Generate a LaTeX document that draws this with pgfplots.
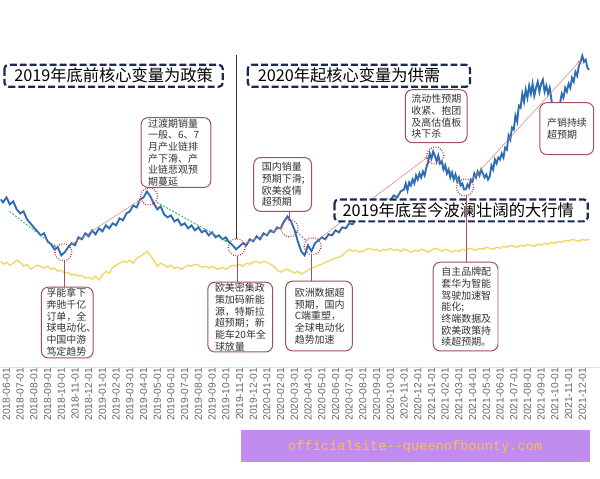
\documentclass[border=0pt]{standalone}
\usepackage{pgfplots}
\pgfplotsset{compat=1.18}
\usetikzlibrary{arrows.meta}
\usepackage{fontspec}
\setmainfont{Liberation Sans}
\newfontfamily\cjk{Noto Sans CJK SC}
\newfontfamily\mono{Liberation Mono}
\definecolor{blueL}{HTML}{2E6DB4}
\definecolor{yellowL}{HTML}{F2D45E}
\definecolor{navyB}{HTML}{1B2A55}
\definecolor{boxc}{HTML}{A0505E}
\definecolor{txt}{HTML}{333333}
\definecolor{circ}{HTML}{C0283C}
\definecolor{greenA}{HTML}{3DAA86}
\definecolor{redA}{HTML}{DE7F77}
\definecolor{wmbg}{HTML}{C08CF0}
\definecolor{wmtx}{HTML}{F4C542}
\begin{document}
\begin{tikzpicture}
\begin{scope}[yshift=368pt,x=1pt,y=-1pt]
\path[use as bounding box] (0,0) rectangle (600,480);
\end{scope}
\begin{axis}[
  at={(0,0)}, anchor=south west,
  scale only axis, width=600pt, height=368pt,
  xmin=-0.364, xmax=43.27, ymin=112, ymax=480,
  axis x line*=bottom, axis y line=none,
  x axis line style={draw=black!12, line width=0.6pt, -},
  xtick={0,...,42},
  xticklabels={2018-06-01,2018-07-01,2018-08-01,2018-09-01,2018-10-01,2018-11-01,2018-12-01,2019-01-01,2019-02-01,2019-03-01,2019-04-01,2019-05-01,2019-06-01,2019-07-01,2019-08-01,2019-09-01,2019-10-01,2019-11-01,2019-12-01,2020-01-01,2020-02-01,2020-03-01,2020-04-01,2020-05-01,2020-06-01,2020-07-01,2020-08-01,2020-09-01,2020-10-01,2020-11-01,2020-12-01,2021-01-01,2021-02-01,2021-03-01,2021-04-01,2021-05-01,2021-06-01,2021-07-01,2021-08-01,2021-09-01,2021-10-01,2021-11-01,2021-12-01},
  xticklabel style={rotate=90, anchor=east, font=\fontsize{10.3}{11}\selectfont, text=black!60, inner sep=1pt},
  xtick style={draw=none},
  clip=false,
]
\addplot[yellowL, line width=1.3pt, no markers] coordinates {(-0.4,218) (-0.2,215) (0,217) (0.25,214) (0.5,216) (0.75,219) (1,217) (1.25,213) (1.5,215) (1.75,210) (2,212) (2.25,214) (2.5,213) (2.75,211) (3,213) (3.25,210) (3.5,211) (3.75,208) (4,209) (4.25,206) (4.5,207) (4.75,204) (5,205) (5.25,203) (5.5,204) (5.75,201) (6,202) (6.25,200) (6.5,203) (6.75,199) (7,204) (7.25,208) (7.5,206) (7.75,212) (8,214) (8.25,216) (8.5,218) (8.75,217) (9,219) (9.25,216) (9.5,221) (9.75,223) (10,225) (10.25,228) (10.5,224) (10.75,219) (11,213) (11.25,216) (11.5,214) (11.75,212) (12,214) (12.25,211) (12.5,212) (12.75,210) (13,212) (13.25,214) (13.5,213) (13.75,215) (14,214) (14.25,212) (14.5,213) (14.75,211) (15,213) (15.25,211) (15.5,210) (15.75,212) (16,210) (16.25,212) (16.5,214) (16.75,213) (17,215) (17.25,213) (17.5,216) (17.75,215) (18,217) (18.25,218) (18.5,216) (18.75,218) (19,217) (19.25,215) (19.5,213) (19.75,209) (20,207) (20.25,209) (20.5,210) (20.75,208) (21,206) (21.25,208) (21.5,205) (21.75,207) (22,209) (22.25,211) (22.5,212) (22.75,214) (23,215) (23.25,217) (23.5,218) (23.75,220) (24,221) (24.25,222) (24.5,224) (24.75,227) (25,230) (25.25,228) (25.5,229) (25.75,227) (26,228) (26.25,230) (26.5,231) (26.75,229) (27,230) (27.25,228) (27.5,230) (27.75,229) (28,231) (28.25,229) (28.5,230) (28.75,228) (29,230) (29.25,229) (29.5,227) (29.75,229) (30,228) (30.25,230) (30.5,229) (30.75,227) (31,229) (31.25,231) (31.5,230) (31.75,228) (32,230) (32.25,229) (32.5,227) (32.75,229) (33,228) (33.25,230) (33.5,229) (33.75,231) (34,230) (34.25,229) (34.5,231) (34.75,230) (35,232) (35.25,231) (35.5,230) (35.75,232) (36,231) (36.25,233) (36.5,232) (36.75,234) (37,233) (37.25,232) (37.5,234) (37.75,233) (38,235) (38.25,234) (38.5,233) (38.75,235) (39,234) (39.25,236) (39.5,235) (39.75,237) (40,236) (40.25,238) (40.5,237) (40.75,239) (41,238) (41.25,240) (41.5,239) (41.75,238) (42,240) (42.25,239) (42.5,240)};
\addplot[blueL, line width=1.9pt, no markers] coordinates {(-0.4,280) (-0.25,277) (0,282) (0.25,275) (0.5,278) (0.75,270) (1,266) (1.25,268) (1.5,260) (1.75,256) (2,252) (2.25,248) (2.5,244) (2.75,246) (3,238) (3.25,235) (3.5,230) (3.75,232) (4,224) (4.25,227) (4.5,232) (4.75,236) (5,234) (5.25,242) (5.5,240) (5.75,246) (6,243) (6.25,249) (6.5,245) (6.75,251) (7,248) (7.25,254) (7.5,251) (7.75,256) (8,254) (8.25,261) (8.5,259) (8.75,266) (9,268) (9.25,274) (9.5,272) (9.75,280) (10,282) (10.25,288) (10.5,283) (10.75,276) (11,270) (11.25,273) (11.5,265) (11.75,262) (12,264) (12.25,258) (12.5,260) (12.75,254) (13,256) (13.25,251) (13.5,254) (13.75,249) (14,252) (14.25,247) (14.5,249) (14.75,244) (15,247) (15.25,242) (15.5,244) (15.75,240) (16,242) (16.25,237) (16.5,234) (16.75,230) (17,233) (17.25,236) (17.5,234) (17.75,240) (18,238) (18.25,243) (18.5,240) (18.75,246) (19,244) (19.25,249) (19.5,247) (19.75,252) (20,251) (20.25,258) (20.5,263) (20.75,258) (21,250) (21.25,238) (21.5,228) (21.75,224) (22,234) (22.25,228) (22.5,236) (22.75,239) (23,242) (23.25,240) (23.5,245) (23.75,244) (24,249) (24.25,247) (24.5,252) (24.75,251) (25,256) (25.25,255) (25.5,260) (25.75,262) (26,265) (26.25,264) (26.5,269) (26.75,268) (27,273) (27.25,276) (27.5,275) (27.75,280) (28,279) (28.25,284) (28.5,282) (28.75,288)
(29,290) (29.125,296) (29.25,289) (29.375,297) (29.5,294) (29.625,300) (29.75,296) (29.875,304) (30,300) (30.125,306) (30.25,302) (30.375,308) (30.5,304) (30.625,312) (30.75,317) (30.875,326) (31,321) (31.125,328) (31.25,324) (31.375,318) (31.5,324) (31.625,316) (31.75,318) (31.875,310) (32,314) (32.125,306) (32.25,310) (32.375,302) (32.5,307) (32.625,300) (32.75,305) (32.875,298) (33,302) (33.125,294) (33.25,296) (33.375,290) (33.5,290) (33.625,295) (33.75,292) (33.875,300) (34,298) (34.125,306) (34.25,302) (34.375,308) (34.5,304) (34.625,310) (34.75,306) (34.875,302) (35,305) (35.125,300) (35.25,303) (35.375,314) (35.5,310) (35.625,320) (35.75,316) (35.875,322)
(36,320) (36.125,326) (36.25,322) (36.375,332) (36.5,330) (36.625,344) (36.75,340) (36.875,352) (37,350) (37.125,364) (37.25,358) (37.375,374) (37.5,372) (37.625,386) (37.75,378) (37.875,390) (38,382) (38.125,394) (38.25,386) (38.375,396) (38.5,384) (38.625,392) (38.75,398) (38.875,388) (39,396) (39.125,400) (39.25,388) (39.375,394) (39.5,386) (39.625,392) (39.75,380) (39.875,370) (40,366) (40.125,372) (40.25,366) (40.375,376) (40.5,386) (40.625,382) (40.75,392) (40.875,388) (41,396) (41.125,392) (41.25,402) (41.375,398) (41.5,408) (41.625,404) (41.75,414) (41.875,418) (42,424) (42.125,418) (42.25,420) (42.375,412) (42.5,410)};
% trend arrows
\draw[greenA, line width=0.9pt, dash pattern=on 2pt off 1.5pt, -{Stealth[length=4pt]}] (axis cs:0.22,268) -- (axis cs:3.64,232);
\draw[redA, line width=0.5pt, -{Stealth[length=4pt]}] (axis cs:4.73,235) -- (axis cs:9.82,280);
\draw[greenA, line width=0.9pt, dash pattern=on 2pt off 1.5pt, -{Stealth[length=4pt]}] (axis cs:10.98,277) -- (axis cs:16.2,237);
\draw[redA, line width=0.5pt, -{Stealth[length=4pt]}] (axis cs:17.4,236) -- (axis cs:20.15,252);
\draw[greenA, line width=0.9pt, dash pattern=on 2pt off 1.5pt] (axis cs:21.16,248) -- (axis cs:21.9,238);
\draw[redA, line width=0.5pt, -{Stealth[length=4pt]}] (axis cs:22.76,240) -- (axis cs:30.76,323);
\draw[greenA, line width=0.9pt, dash pattern=on 2pt off 1.5pt, -{Stealth[length=4pt]}] (axis cs:31.7,319) -- (axis cs:33.0,298);
\draw[redA, line width=0.5pt, -{Stealth[length=4pt]}] (axis cs:33.82,298) -- (axis cs:41.9,420);
% circles
\draw[circ, line width=1.3pt, dash pattern=on 0.8pt off 1.6pt] (axis cs:4.15,227) circle[radius=8.5pt];
\draw[circ, line width=1.3pt, dash pattern=on 0.8pt off 1.6pt] (axis cs:10.4,283) circle[radius=8.5pt];
\draw[circ, line width=1.3pt, dash pattern=on 0.8pt off 1.6pt] (axis cs:16.8,232) circle[radius=8.5pt];
\draw[circ, line width=1.3pt, dash pattern=on 0.8pt off 1.6pt] (axis cs:20.65,251) circle[radius=8.5pt];
\draw[circ, line width=1.3pt, dash pattern=on 0.8pt off 1.6pt] (axis cs:22.33,233) circle[radius=8.5pt];
\draw[circ, line width=1.3pt, dash pattern=on 0.8pt off 1.6pt] (axis cs:31.27,324) circle[radius=8.5pt];
\draw[circ, line width=1.3pt, dash pattern=on 0.8pt off 1.6pt] (axis cs:33.45,292) circle[radius=8.5pt];
\end{axis}
\begin{scope}[yshift=368pt,x=1pt,y=-1pt]
% black divider
\draw[black!80, line width=0.9pt] (236,55) -- (236,240);
% header boxes
\tikzset{hdr/.style={draw=navyB, line width=2.2pt, dash pattern=on 7pt off 3pt, rounded corners=4pt, fill=white}}
\tikzset{htx/.style={font=\cjk\fontsize{16.3}{18}\selectfont, text=black, inner sep=0pt}}
\draw[hdr] (3,65) rectangle (222,87);
\node[htx] at (112.5,76) {2019年底前核心变量为政策};
\draw[hdr] (247,65) rectangle (470,87);
\node[htx, anchor=west] at (257,76) {2020年起核心变量为供需};
\draw[hdr] (334,200) rectangle (588,222);
\node[htx, anchor=west] at (342,211) {2019年底至今波澜壮阔的大行情};
% connectors
\tikzset{conn/.style={boxc, line width=1pt}}
\draw[conn] (63,262) -- (63,288);
\draw[conn] (237,257) -- (237,283);
\draw[conn] (289,212) -- (289,220);
\draw[conn] (311,256) -- (311,282);
\draw[conn] (466,197) -- (466,263);
% annotation boxes
\tikzset{abox/.style={draw=boxc, line width=1pt, rounded corners=7pt, fill=white}}
\tikzset{atx/.style={anchor=west, align=left, font=\cjk\fontsize{10}{11.7}\selectfont, text=txt, inner sep=0pt}}
\draw[abox] (140,118) rectangle (210,188);
\node[atx] at (147,153) {过渡期销量\\一般、6、7\\月产业链排\\产下滑、产\\业链悲观预\\期蔓延};
\draw[abox] (253,158) rectangle (311,212);
\node[atx] at (261,185) {国内销量\\预期下滑;\\欧美疫情\\超预期};
\draw[abox] (405,90) rectangle (467,143);
\node[atx] at (411,117) {流动性预期\\收紧、抱团\\及高估值板\\块下杀};
\draw[abox] (540,103) rectangle (594,155);
\node[atx] at (547,129) {产销持续\\超预期};
\draw[abox] (40,288) rectangle (92,359);
\node[atx] at (45,323) {孚能拿下\\奔驰千亿\\订单，全\\球电动化、\\中国中游\\笃定趋势};
\draw[abox] (207,283) rectangle (272,353);
\node[atx] at (214,318) {欧美密集政\\策加码新能\\源，特斯拉\\超预期；新\\能车20年全\\球放量};
\draw[abox] (285,282) rectangle (352,352);
\node[atx] at (294,317) {欧洲数据超\\预期，国内\\C端重塑，\\全球电动化\\趋势加速};
\draw[abox] (433,263) rectangle (498,352);
\node[atx] at (441,308) {自主品牌配\\套华为智能\\驾驶加速智\\能化;\\终端数据及\\欧美政策持\\续超预期。};
% watermark banner
\fill[wmbg] (240,431) rectangle (590,463);
\node[font=\mono\fontsize{13.7}{15}\selectfont, text=wmtx, inner sep=0pt] at (415,448) {officialsite--queenofbounty.com};
\end{scope}
\end{tikzpicture}
\end{document}
